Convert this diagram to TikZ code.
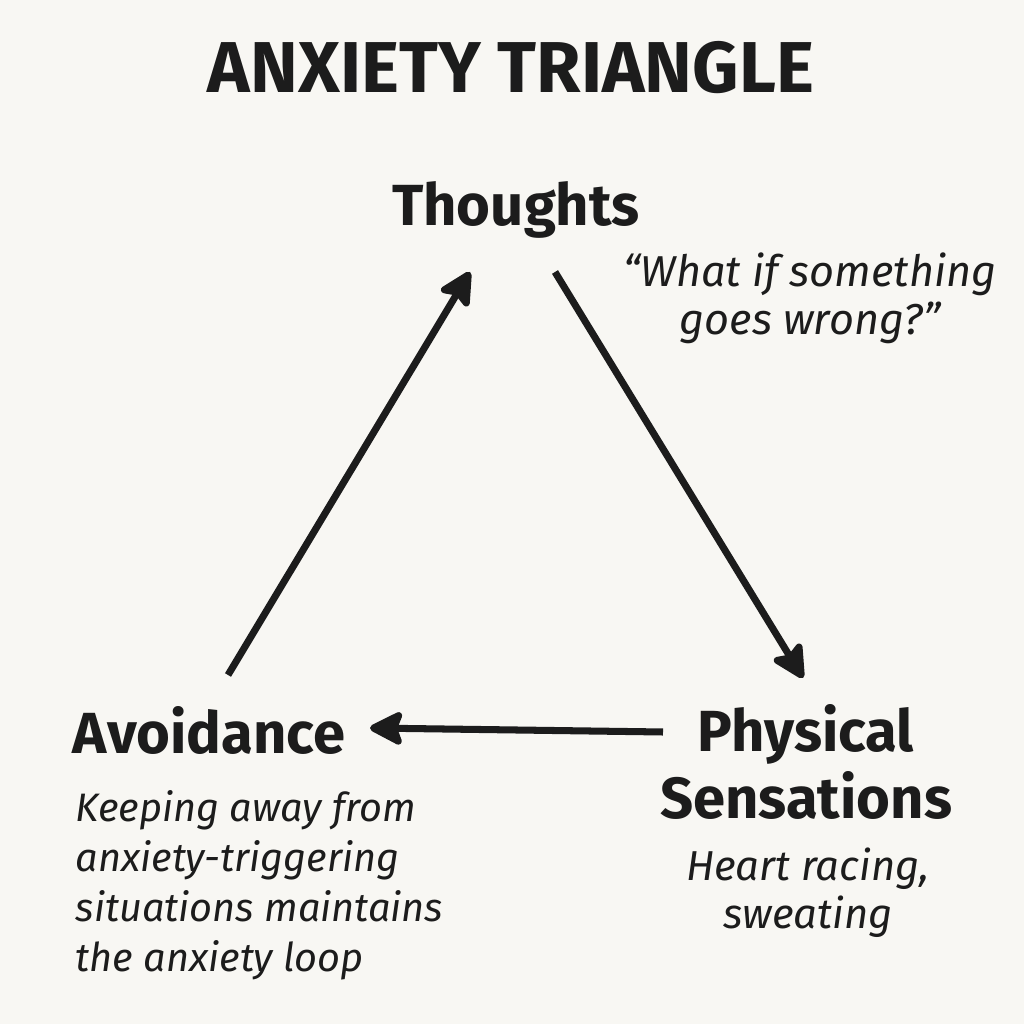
\documentclass[tikz,border=0pt]{standalone}
\usepackage{fontspec}
\setmainfont{Fira Sans}
\usetikzlibrary{positioning,arrows.meta,calc}
\definecolor{ink}{RGB}{28,28,28}
\definecolor{paper}{RGB}{248,247,243}
\tikzset{
  heading/.style={font=\fontsize{20.5}{24}\selectfont\bfseries, text=ink, inner sep=0pt},
  stage/.style={font=\fontsize{16.5}{19}\selectfont\bfseries, text=ink, align=center, inner sep=0pt},
  desc/.style={font=\fontsize{11.9}{13.7}\selectfont\itshape, text=ink, inner sep=0pt},
  cyc/.style={-{Stealth[length=11pt,width=11pt,inset=2pt,round]}, line width=2pt, draw=ink},
}

\begin{document}
\begin{tikzpicture}
  \fill[paper] (0,0) rectangle (10.24,10.24);
  \useasboundingbox (0,0) rectangle (10.24,10.24);

  \node[heading] (head) at (5.11,9.56) {ANXIETY TRIANGLE};

  % the three corners
  \node[stage, anchor=base] (thoughts) at (5.16,7.98) {Thoughts};
  \node[stage] (avoid) at (2.09,2.94) {Avoidance};
  \node[stage] (phys) at (8.06,2.62) {Physical\\Sensations};

  % what goes with each corner
  \node[desc, align=center, font=\fontsize{12.3}{13.7}\selectfont\itshape] (tquote) at (8.10,7.26) {“What if something\\goes wrong?”};
  \node[desc, align=center] (psens) at (8.08,1.31) {Heart racing,\\sweating};
  \node[desc, align=left, anchor=north west, font=\fontsize{11.3}{14.2}\selectfont\itshape]
    (adesc) at (0.75,2.34)
    {Keeping away from\\anxiety-triggering\\situations maintains\\the anxiety loop};

  % the cycle
  \draw[cyc] ($(avoid)+(0.19,0.55)$) -- ($(thoughts.base)+(-0.46,-0.46)$);
  \draw[cyc] ($(thoughts.base)+(0.39,-0.46)$) -- ($(phys)+(-0.03,0.84)$);
  \draw[cyc] ($(phys)+(-1.43,0.30)$) -- ($(avoid)+(1.61,0.02)$);
\end{tikzpicture}
\end{document}
